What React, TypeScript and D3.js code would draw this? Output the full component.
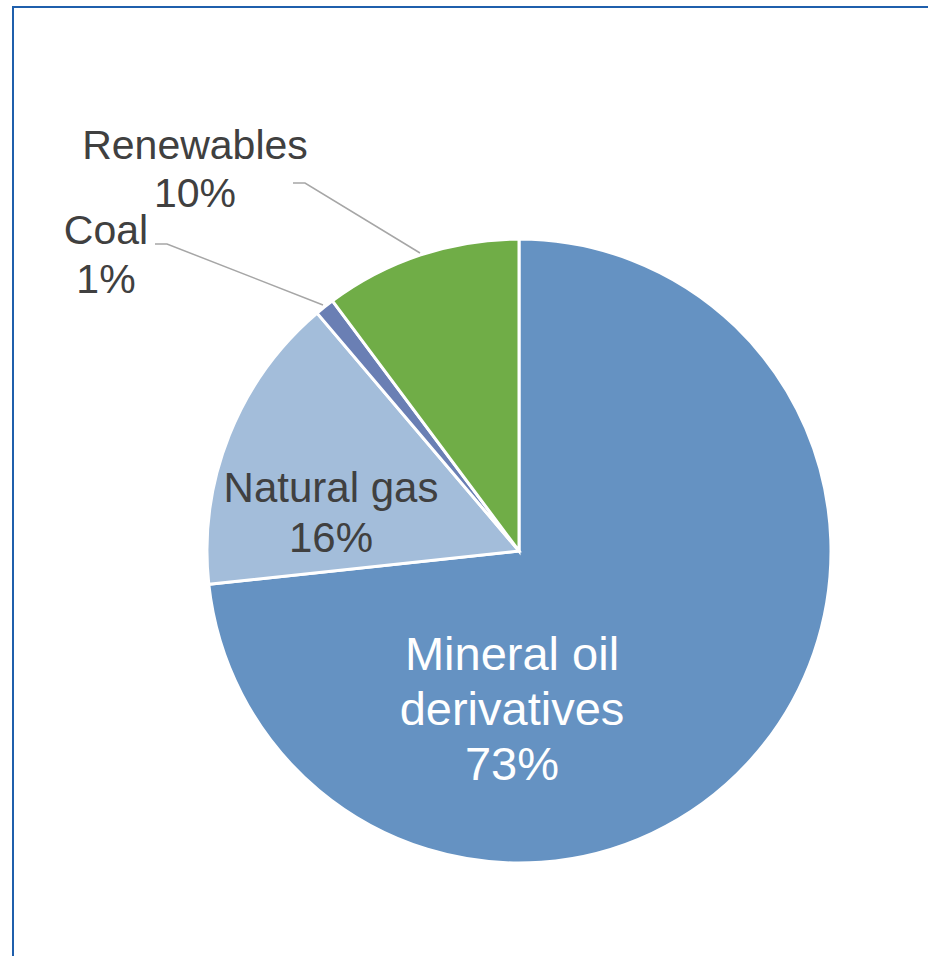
import React from "react";
import * as d3 from "d3";

const categories = ["Mineral oil derivatives", "Natural gas", "Coal", "Renewables"];
const values = [73.3, 15.5, 1.0, 10.2];
const percentLabels = ["73%", "16%", "1%", "10%"];
const labelLines = [["Mineral oil", "derivatives", "73%"], ["Natural gas", "16%"], ["Coal", "1%"], ["Renewables", "10%"]];
const colors = ["#6592c2", "#a3bdda", "#6a7fb4", "#70ad47"];

const W = 928;
const H = 956;
const cx = 519;
const cy = 551;
const R = 312;

// label layout (anchor = center x, first baseline y)
const labelLayout = [
  { x: 512, y: 670, size: 47, dy: 55, fill: "#ffffff" },
  { x: 331, y: 502, size: 42, dy: 50, fill: "#404040" },
  { x: 106, y: 244, size: 41, dy: 49, fill: "#404040" },
  { x: 195, y: 159, size: 41, dy: 48, fill: "#404040" },
];
const leaders: ([number, number][] | null)[] = [
  null,
  null,
  [[155, 244], [167, 244], [323, 305]],
  [[293, 183], [305, 183], [420, 253]],
];

export default function App() {
  const pie = d3.pie<number>().sort(null).value((d) => d)(values);
  const arc = d3.arc<d3.PieArcDatum<number>>().innerRadius(0).outerRadius(R);
  const line = d3.line();
  return (
    <svg width={W} height={H} style={{ position: "absolute", left: 0, top: 0, background: "#fff" }}>
      <rect x={13} y={7} width={W + 100} height={H + 100} fill="#fff" stroke="#1f5fac" strokeWidth={2} />
      <g transform={`translate(${cx},${cy})`}>
        {pie.map((p, i) => (
          <path key={categories[i]} d={arc(p) || ""} fill={colors[i]} stroke="#fff" strokeWidth={3} strokeLinejoin="miter" />
        ))}
      </g>
      {leaders.map((pts, i) =>
        pts ? <path key={"l" + i} d={line(pts) || ""} fill="none" stroke="#a6a6a6" strokeWidth={1.5} /> : null
      )}
      {labelLines.map((lines, i) => {
        const L = labelLayout[i];
        return (
          <text key={"t" + i} textAnchor="middle" fontFamily="Liberation Sans, Arial, sans-serif" fontSize={L.size} fill={L.fill}>
            {lines.map((s, j) => (
              <tspan key={j} x={L.x} y={L.y + j * L.dy}>{s}</tspan>
            ))}
          </text>
        );
      })}
    </svg>
  );
}
